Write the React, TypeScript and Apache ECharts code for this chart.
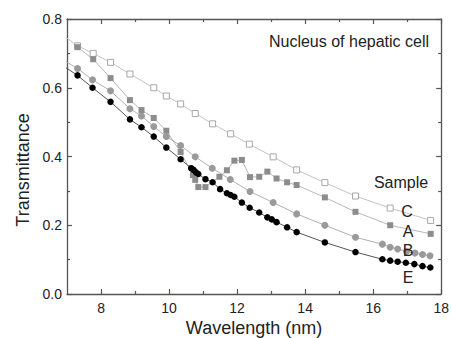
import React, { useEffect, useRef } from "react";
import * as echarts from "echarts";

const xTicksMajor = [8, 10, 12, 14, 16, 18];
const xTicksMinor = [9, 11, 13, 15, 17];

const cX = [6.85, 7.31, 7.77, 8.28, 8.85, 9.55, 9.92, 10.34, 10.77, 11.28, 11.81, 12.36, 13.06, 13.75, 14.58, 15.48, 16.5, 17.69];
const cY = [0.755, 0.722, 0.7, 0.674, 0.64, 0.6, 0.576, 0.553, 0.525, 0.495, 0.466, 0.436, 0.399, 0.361, 0.324, 0.285, 0.25, 0.214];

const aX = [7.31, 7.77, 8.28, 8.85, 9.19, 9.55, 9.92, 10.34, 10.7, 10.77, 10.86, 11.07, 11.48, 11.7, 11.92, 12.14, 12.38, 12.65, 12.89, 13.16, 13.47, 13.75, 14.58, 15.48, 16.5, 17.69];
const aY = [0.718, 0.683, 0.628, 0.564, 0.535, 0.512, 0.475, 0.413, 0.346, 0.332, 0.311, 0.311, 0.341, 0.36, 0.388, 0.39, 0.34, 0.341, 0.356, 0.336, 0.325, 0.317, 0.281, 0.239, 0.2, 0.175];

const bX = [6.85, 7.31, 7.75, 8.28, 8.85, 9.19, 9.55, 9.92, 10.34, 10.77, 11.27, 11.8, 12.38, 13.06, 13.75, 14.58, 15.48, 16.27, 16.5, 16.72, 16.98, 17.23, 17.45, 17.67];
const bY = [0.683, 0.656, 0.623, 0.591, 0.539, 0.518, 0.487, 0.458, 0.432, 0.399, 0.366, 0.333, 0.298, 0.266, 0.233, 0.2, 0.165, 0.145, 0.136, 0.131, 0.124, 0.119, 0.115, 0.111];

const eX = [6.85, 7.31, 7.75, 8.28, 8.85, 9.19, 9.55, 9.92, 10.34, 10.65, 10.72, 10.79, 10.86, 11.07, 11.28, 11.5, 11.7, 11.81, 11.92, 12.14, 12.37, 12.65, 12.89, 13.02, 13.16, 13.47, 13.75, 14.58, 15.48, 16.27, 16.5, 16.72, 16.96, 17.21, 17.45, 17.68];
const eY = [0.666, 0.636, 0.6, 0.559, 0.508, 0.485, 0.458, 0.426, 0.392, 0.366, 0.361, 0.354, 0.349, 0.334, 0.325, 0.305, 0.293, 0.288, 0.283, 0.266, 0.251, 0.237, 0.223, 0.217, 0.209, 0.194, 0.18, 0.15, 0.122, 0.101, 0.097, 0.094, 0.091, 0.087, 0.081, 0.077];

const FONT = "'Liberation Sans', Arial, sans-serif";
const AXIS_COLOR = "#555";
const TEXT_COLOR = "#222";

const zip = (xs: number[], ys: number[]) => xs.map((x, i) => [x, ys[i]]);

export default function App() {
  const ref = useRef<HTMLDivElement>(null);
  useEffect(() => {
    document.body.style.margin = "0";
    const chart = echarts.init(ref.current!, null, { renderer: "svg" });
    const baseX = {
      type: "value",
      min: 7,
      max: 18,
      interval: 1,
      splitLine: { show: false },
      gridIndex: 0,
    };
    const option: any = {
      animation: false,
      backgroundColor: "#fff",
      grid: { left: 67, top: 19, right: 10, bottom: 44, containLabel: false },
      xAxis: [
        {
          ...baseX,
          position: "bottom",
          axisLine: { show: true, lineStyle: { color: AXIS_COLOR, width: 1.3 } },
          axisTick: { show: true, inside: true, length: 5, customValues: xTicksMajor, lineStyle: { color: AXIS_COLOR, width: 1.2 } },
          axisLabel: { show: true, customValues: xTicksMajor, fontSize: 14, color: TEXT_COLOR, margin: 7, fontFamily: FONT },
        },
        {
          ...baseX,
          position: "bottom",
          axisLine: { show: false },
          axisTick: { show: true, inside: true, length: 3, customValues: xTicksMinor, lineStyle: { color: AXIS_COLOR, width: 1.2 } },
          axisLabel: { show: false },
        },
        {
          ...baseX,
          position: "top",
          axisLine: { show: true, lineStyle: { color: AXIS_COLOR, width: 1.3 } },
          axisTick: { show: true, inside: true, length: 5, customValues: xTicksMajor, lineStyle: { color: AXIS_COLOR, width: 1.2 } },
          axisLabel: { show: false },
        },
        {
          ...baseX,
          position: "top",
          axisLine: { show: false },
          axisTick: { show: true, inside: true, length: 3, customValues: xTicksMinor, lineStyle: { color: AXIS_COLOR, width: 1.2 } },
          axisLabel: { show: false },
        },
      ],
      yAxis: [
        {
          type: "value",
          min: 0,
          max: 0.8,
          interval: 0.2,
          position: "left",
          splitLine: { show: false },
          axisLine: { show: true, lineStyle: { color: AXIS_COLOR, width: 1.3 } },
          axisTick: { show: true, inside: true, length: 5, lineStyle: { color: AXIS_COLOR, width: 1.2 } },
          minorTick: { show: true, splitNumber: 2, length: 3, lineStyle: { color: AXIS_COLOR, width: 1.2 } },
          axisLabel: { fontSize: 14, color: TEXT_COLOR, margin: 5, fontFamily: FONT, formatter: (v: number) => v.toFixed(1) },
        },
        {
          type: "value",
          min: 0,
          max: 0.8,
          interval: 0.2,
          position: "right",
          splitLine: { show: false },
          axisLine: { show: true, lineStyle: { color: AXIS_COLOR, width: 1.3 } },
          axisTick: { show: true, inside: true, length: 5, lineStyle: { color: AXIS_COLOR, width: 1.2 } },
          minorTick: { show: true, splitNumber: 2, length: 3, lineStyle: { color: AXIS_COLOR, width: 1.2 } },
          axisLabel: { show: false },
        },
      ],
      series: [
        {
          name: "C",
          type: "line",
          data: zip(cX, cY),
          symbol: "rect",
          symbolSize: 6,
          lineStyle: { color: "#c4c4c4", width: 1 },
          itemStyle: { color: "#fff", borderColor: "#a8a8a8", borderWidth: 1 },
        },
        {
          name: "A",
          type: "line",
          data: zip(aX, aY),
          symbol: "rect",
          symbolSize: 6,
          lineStyle: { color: "#b8b8b8", width: 1 },
          itemStyle: { color: "#8c8c8c" },
        },
        {
          name: "B",
          type: "line",
          data: zip(bX, bY),
          symbol: "circle",
          symbolSize: 7,
          lineStyle: { color: "#b0b0b0", width: 1 },
          itemStyle: { color: "#9a9a9a" },
        },
        {
          name: "E",
          type: "line",
          data: zip(eX, eY),
          symbol: "circle",
          symbolSize: 6.5,
          lineStyle: { color: "#555", width: 1 },
          itemStyle: { color: "#000" },
        },
      ],
      graphic: [
        { type: "text", x: 349, y: 41, z: 100, style: { text: "Nucleus of hepatic cell", font: `16px ${FONT}`, fill: TEXT_COLOR, textAlign: "center", textVerticalAlign: "middle" } },
        { type: "text", x: 401, y: 182, z: 100, style: { text: "Sample", font: `16px ${FONT}`, fill: TEXT_COLOR, textAlign: "center", textVerticalAlign: "middle" } },
        { type: "text", x: 407, y: 211, z: 100, style: { text: "C", font: `16px ${FONT}`, fill: TEXT_COLOR, textAlign: "center", textVerticalAlign: "middle" } },
        { type: "text", x: 408, y: 231, z: 100, style: { text: "A", font: `16px ${FONT}`, fill: TEXT_COLOR, textAlign: "center", textVerticalAlign: "middle" } },
        { type: "text", x: 408, y: 250, z: 100, style: { text: "B", font: `16px ${FONT}`, fill: TEXT_COLOR, textAlign: "center", textVerticalAlign: "middle" } },
        { type: "text", x: 408, y: 277, z: 100, style: { text: "E", font: `16px ${FONT}`, fill: TEXT_COLOR, textAlign: "center", textVerticalAlign: "middle" } },
        { type: "text", x: 254, y: 328, z: 100, style: { text: "Wavelength (nm)", font: `18px ${FONT}`, fill: TEXT_COLOR, textAlign: "center", textVerticalAlign: "middle" } },
        { type: "text", x: 23, y: 170, rotation: Math.PI / 2, z: 100, style: { text: "Transmittance", font: `18px ${FONT}`, fill: TEXT_COLOR, textAlign: "center", textVerticalAlign: "middle" } },
      ],
    };
    chart.setOption(option);
    return () => chart.dispose();
  }, []);
  return <div ref={ref} style={{ position: "fixed", left: 0, top: 0, width: 452, height: 338 }} />;
}
